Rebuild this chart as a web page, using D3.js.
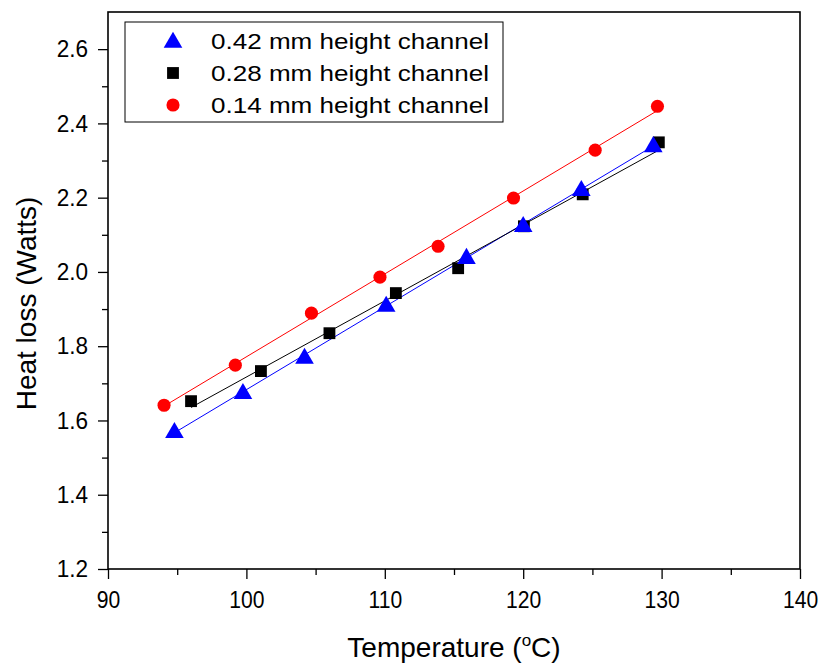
<!DOCTYPE html>
<meta charset="utf-8">
<style>
body { margin: 0; background: #fff; }
text { font-family: "Liberation Sans", Arial, sans-serif; fill: #000; }
.fit { fill: none; stroke-width: 1px; }
</style>
<body>
<script src="https://cdn.jsdelivr.net/npm/d3@7"></script>
<script>

// series data
var temp042 = [94.8, 99.75, 104.2, 110.1, 115.9, 120.0, 124.2, 129.4];
var heat042 = [1.571, 1.676, 1.771, 1.911, 2.040, 2.126, 2.223, 2.341];

var temp028 = [96.0, 101.05, 106.0, 110.8, 115.3, 120.05, 124.3, 129.8];
var heat028 = [1.652, 1.733, 1.835, 1.943, 2.010, 2.123, 2.209, 2.349];

var temp014 = [94.05, 99.2, 104.7, 109.65, 113.85, 119.3, 125.2, 129.7];
var heat014 = [1.641, 1.749, 1.889, 1.986, 2.069, 2.199, 2.328, 2.446];

var seriesNames = ["0.42 mm height channel", "0.28 mm height channel", "0.14 mm height channel"];
var xTicks = [90, 100, 110, 120, 130, 140];
var yTicks = [1.2, 1.4, 1.6, 1.8, 2.0, 2.2, 2.4, 2.6];

var series = [
  {name: seriesNames[0], x: temp042, y: heat042, color: "#0000ff", shape: d3.symbolTriangle, size: 150},
  {name: seriesNames[1], x: temp028, y: heat028, color: "#000000", shape: d3.symbolSquare, size: 140},
  {name: seriesNames[2], x: temp014, y: heat014, color: "#ff0000", shape: d3.symbolCircle, size: 135}
];

var W = 820, H = 663;
var margin = {top: 12, right: 20, bottom: 94, left: 108},
    width = W - margin.left - margin.right,
    height = H - margin.top - margin.bottom;

var x = d3.scaleLinear().domain([90, 140]).range([0, width]);
var y = d3.scaleLinear().domain([1.2, 2.7]).range([height, 0]);

// stretch or squeeze a text to a width, the original font is a bit off from ours
function fitWidth(sel, ratio) {
  sel.each(function() {
    var len = this.getComputedTextLength();
    d3.select(this).attr("textLength", len * ratio).attr("lengthAdjust", "spacingAndGlyphs");
  });
}

var svg = d3.select("body").append("svg")
    .attr("width", W).attr("height", H)
  .append("g")
    .attr("transform", "translate(" + margin.left + "," + margin.top + ")");

// minor ticks
svg.append("g")
    .attr("transform", "translate(0," + height + ")")
    .call(d3.axisBottom(x).tickValues(d3.range(95, 140, 10)).tickSize(6).tickFormat(""))
    .call(function(g) { g.select(".domain").remove(); });
svg.append("g")
    .call(d3.axisLeft(y).tickValues(d3.range(1.3, 2.7, 0.2)).tickSize(6).tickFormat(""))
    .call(function(g) { g.select(".domain").remove(); });

// major ticks
var xAxis = svg.append("g")
    .attr("transform", "translate(0," + height + ")")
    .call(d3.axisBottom(x).tickValues(xTicks).tickSize(10).tickPadding(12));
xAxis.selectAll("text").style("font-size", "24px").call(fitWidth, 0.88);

var yAxis = svg.append("g")
    .call(d3.axisLeft(y).tickValues(yTicks).tickSize(10).tickPadding(10).tickFormat(d3.format(".1f")));
yAxis.selectAll("text").style("font-size", "24px").call(fitWidth, 0.94);

svg.selectAll(".domain").remove();
svg.selectAll(".tick line").attr("stroke-width", 1.3);

// frame
svg.append("rect")
    .attr("width", width).attr("height", height)
    .attr("fill", "none").attr("stroke", "#000").attr("stroke-width", 1.6);

// linear fits
series.forEach(function(s) {
  var mx = d3.mean(s.x), my = d3.mean(s.y);
  var num = d3.sum(s.x, function(v, i) { return (v - mx) * (s.y[i] - my); });
  var den = d3.sum(s.x, function(v) { return (v - mx) * (v - mx); });
  var b = num / den, a = my - b * mx;
  var ext = d3.extent(s.x);
  svg.append("line")
      .attr("class", "fit")
      .attr("stroke", s.color)
      .attr("x1", x(ext[0])).attr("y1", y(a + b * ext[0]))
      .attr("x2", x(ext[1])).attr("y2", y(a + b * ext[1]));
});

// markers, red first so blue sits on top
[series[2], series[1], series[0]].forEach(function(s) {
  svg.append("g").selectAll("path")
    .data(s.x)
    .enter().append("path")
      .attr("d", d3.symbol().type(s.shape).size(s.size))
      .attr("fill", s.color)
      .attr("transform", function(d, i) {
        var dy = s.shape === d3.symbolTriangle ? 1.5 : 0;
        return "translate(" + x(d) + "," + (y(s.y[i]) + dy) + ")";
      });
});

// legend
var legend = svg.append("g").attr("transform", "translate(17,10)");
legend.append("rect")
    .attr("width", 378).attr("height", 100)
    .attr("fill", "#fff").attr("stroke", "#000").attr("stroke-width", 1);
series.forEach(function(s, i) {
  var row = legend.append("g").attr("transform", "translate(0," + (19 + i * 32) + ")");
  row.append("path")
      .attr("d", d3.symbol().type(s.shape).size(s.size))
      .attr("fill", s.color)
      .attr("transform", "translate(48," + (s.shape === d3.symbolTriangle ? 1.5 : 0) + ")");
  row.append("text")
      .attr("x", 86).attr("y", 0).attr("dy", "0.36em")
      .style("font-size", "22px")
      .text(s.name)
      .attr("textLength", 278).attr("lengthAdjust", "spacingAndGlyphs");
});

// axis titles
svg.append("text")
    .attr("x", 346).attr("y", height + 88)
    .attr("text-anchor", "middle")
    .style("font-size", "28px")
    .html('Temperature (<tspan dy="-11" font-size="17px">o</tspan><tspan dy="11">C)</tspan>');

svg.append("text")
    .attr("transform", "translate(" + (-72) + "," + (height / 2 + 13) + ") rotate(-90)")
    .attr("text-anchor", "middle")
    .style("font-size", "28px")
    .text("Heat loss (Watts)");

</script>
</body>
